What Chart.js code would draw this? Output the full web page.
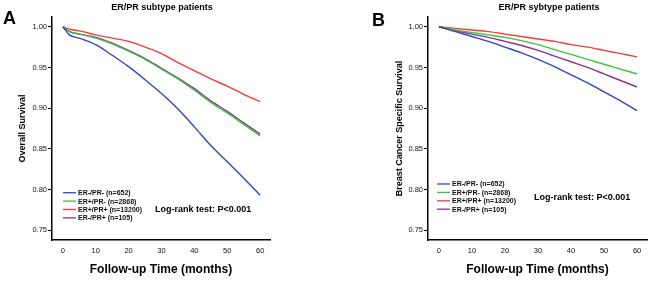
<!DOCTYPE html>
<html>
<head>
  <title>ER/PR survival curves</title>
  <script src="https://cdn.jsdelivr.net/npm/chart.js@4"></script>
  <style>
    body { margin: 0; background: #fff; }
    .panel { position: absolute; top: 0; width: 325px; height: 282px; }
  </style>
</head>
<body>
  <div class="panel" style="left:0"><canvas id="chartA"></canvas></div>
  <div class="panel" style="left:325px"><canvas id="chartB"></canvas></div>

  <script>
    // categories / legend
    var groupLabels = ['ER-/PR- (n=652)', 'ER+/PR- (n=2868)', 'ER+/PR+ (n=13200)', 'ER-/PR+ (n=105)'];
    var groupColors = ['#3047bd', '#3cc43c', '#f53b3b', '#8a3596'];

    // tick labels
    var xTicks = [0, 10, 20, 30, 40, 50, 60];
    var yTicks = [0.75, 0.80, 0.85, 0.90, 0.95, 1.00];

    // panel A - overall survival
    var monthsA = [0, 2, 5, 10, 15, 20, 25, 30, 35, 40, 45, 50, 55, 60];
    var osNegNeg = [1.000, 0.990, 0.986, 0.978, 0.965, 0.951, 0.935, 0.918, 0.899, 0.877, 0.854, 0.834, 0.814, 0.793];
    var osPosNeg = [1.000, 0.994, 0.991, 0.986, 0.979, 0.970, 0.960, 0.948, 0.936, 0.922, 0.907, 0.894, 0.880, 0.866];
    var osPosPos = [1.000, 0.997, 0.995, 0.990, 0.986, 0.982, 0.975, 0.967, 0.956, 0.946, 0.936, 0.927, 0.917, 0.908];
    var osNegPos = [1.000, 0.994, 0.991, 0.987, 0.980, 0.971, 0.961, 0.949, 0.937, 0.924, 0.909, 0.896, 0.882, 0.868];

    // panel B - breast cancer specific survival
    var monthsB = [0, 5, 10, 15, 20, 25, 30, 35, 40, 45, 50, 55, 60];
    var bcNegNeg = [1.000, 0.994, 0.988, 0.982, 0.975, 0.968, 0.960, 0.951, 0.941, 0.931, 0.920, 0.909, 0.897];
    var bcPosNeg = [1.000, 0.996, 0.993, 0.990, 0.987, 0.983, 0.978, 0.972, 0.966, 0.960, 0.954, 0.948, 0.942];
    var bcPosPos = [1.000, 0.998, 0.996, 0.994, 0.991, 0.988, 0.985, 0.982, 0.978, 0.975, 0.971, 0.967, 0.963];
    var bcNegPos = [1.000, 0.995, 0.991, 0.987, 0.982, 0.977, 0.971, 0.964, 0.957, 0.950, 0.942, 0.934, 0.926];

    var FONT = 'Liberation Sans, Arial, sans-serif';

    // draws panel letter, title, legend and log-rank note on top of the chart
    var panelText = {
      id: 'panelText',
      afterDraw: function(chart) {
        var p = chart.options.plugins.panelText;
        var ctx = chart.ctx;
        ctx.save();
        ctx.fillStyle = '#000';
        ctx.textBaseline = 'alphabetic';
        ctx.font = 'bold 18px ' + FONT;
        ctx.textAlign = 'left';
        ctx.fillText(p.letter, p.letterX, p.letterY);

        ctx.font = 'bold 9px ' + FONT;
        ctx.textAlign = 'center';
        ctx.textBaseline = 'middle';
        ctx.fillText(p.title, p.titleX, 7.5);

        ctx.textAlign = 'left';
        ctx.fillText('Log-rank test: P<0.001', p.logX, p.logY);

        ctx.font = 'bold 7px ' + FONT;
        chart.data.datasets.forEach(function(ds, i) {
          var y = p.legY + i * 8.4;
          ctx.strokeStyle = ds.borderColor;
          ctx.lineWidth = 1.3;
          ctx.beginPath();
          ctx.moveTo(p.legX, y);
          ctx.lineTo(p.legX + 13, y);
          ctx.stroke();
          ctx.fillStyle = '#111';
          ctx.fillText(ds.label, p.legX + 15, y + 0.5);
        });
        ctx.restore();
      }
    };

    function makePanel(id, months, series, opts) {
      var datasets = series.map(function(vals, i) {
        return {
          label: groupLabels[i],
          data: months.map(function(m, j) { return { x: m, y: vals[j] }; }),
          borderColor: groupColors[i],
          backgroundColor: groupColors[i],
          borderWidth: 1.4,
          pointRadius: 0,
          cubicInterpolationMode: 'monotone',
          fill: false
        };
      });

      return new Chart(document.getElementById(id), {
        type: 'line',
        data: { datasets: datasets },
        plugins: [panelText],
        options: {
          animation: false,
          responsive: true,
          maintainAspectRatio: false,
          events: [],
          layout: { padding: { top: 17, right: opts.padRight, left: 0, bottom: 0 } },
          plugins: {
            legend: { display: false },
            tooltip: { enabled: false },
            panelText: opts.text
          },
          scales: {
            x: {
              type: 'linear',
              min: -3.3,
              max: 63,
              afterBuildTicks: function(scale) {
                scale.ticks = xTicks.map(function(v) { return { value: v }; });
              },
              afterFit: function(scale) { scale.height = 42; },
              grid: { display: false, drawTicks: false },
              border: { display: true, color: '#000', width: 1.5 },
              ticks: { font: { family: FONT, size: 7.5 }, color: '#111', padding: 6, maxRotation: 0 },
              title: {
                display: true,
                text: 'Follow-up Time (months)',
                color: '#000',
                font: { family: FONT, size: 12, weight: 'bold' },
                padding: { top: 0, bottom: 4.8 }
              }
            },
            y: {
              min: 0.738,
              max: 1.012,
              afterBuildTicks: function(scale) {
                scale.ticks = yTicks.map(function(v) { return { value: v }; });
              },
              afterFit: function(scale) { scale.width = opts.axisLeft; },
              grid: { drawOnChartArea: false, drawTicks: true, tickLength: 4, color: '#000', lineWidth: 1 },
              border: { display: true, color: '#000', width: 1.5 },
              ticks: {
                font: { family: FONT, size: 7.5 },
                color: '#111',
                padding: 1,
                callback: function(v) { return Number(v).toFixed(2); }
              },
              title: {
                display: true,
                text: opts.yTitle,
                color: '#000',
                font: { family: FONT, size: 9, weight: 'bold' },
                padding: { top: opts.yTitlePad, bottom: 0 }
              }
            }
          }
        }
      });
    }

    makePanel('chartA', monthsA, [osNegNeg, osPosNeg, osPosPos, osNegPos], {
      axisLeft: 52,
      padRight: 55,
      yTitle: 'Overall Survival',
      yTitlePad: 17.6,
      text: { letter: 'A', letterX: 3, letterY: 23.5, title: 'ER/PR subtype patients', titleX: 162,
              legX: 63, legY: 192.7, logX: 155, logY: 210 }
    });

    makePanel('chartB', monthsB, [bcNegNeg, bcPosNeg, bcPosPos, bcNegPos], {
      axisLeft: 103,
      padRight: 3,
      yTitle: 'Breast Cancer Specific Survival',
      yTitlePad: 69.6,
      text: { letter: 'B', letterX: 47, letterY: 26, title: 'ER/PR sybtype patients', titleX: 224,
              legX: 112, legY: 184, logX: 209, logY: 198 }
    });
  </script>
</body>
</html>
